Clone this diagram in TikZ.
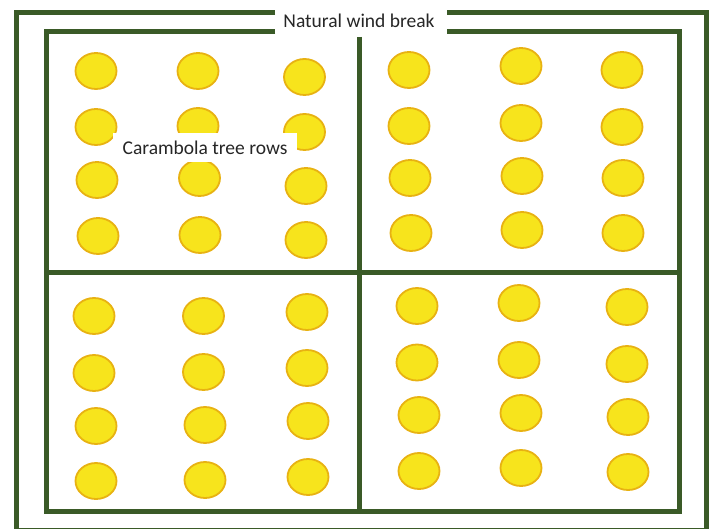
\documentclass[tikz,border=0pt]{standalone}
\usepackage{fontspec}
\setmainfont{Carlito}
\usetikzlibrary{shapes.geometric}
\definecolor{hedge}{HTML}{3A5A27}
\definecolor{fruit}{HTML}{F7E41C}
\definecolor{rim}{HTML}{E8B212}
\tikzset{
  hedgeline/.style={draw=hedge, line width=5pt},
  tree/.style={ellipse, draw=rim, fill=fruit, line width=1.8pt, minimum width=41pt, minimum height=36pt, inner sep=0pt},
  lbl/.style={fill=white, text=black!85, font=\fontsize{19.5}{21}\selectfont, inner sep=0pt}
}
\begin{document}
\begin{tikzpicture}[x=1pt,y=-1pt]
\useasboundingbox (0,0) rectangle (715,529);
\fill[white] (0,0) rectangle (715,529);
% outer wind break
\draw[hedgeline] (275,13) -- (16,13) -- (16,530) -- (706,530) -- (706,13) -- (447,13);
% inner frame
\draw[hedgeline] (275,31.5) -- (46,31.5) -- (46,511) -- (679.5,511) -- (679.5,31.5) -- (447,31.5);
% dividers
\draw[hedgeline] (359.5,37) -- (359.5,511);
\draw[hedgeline] (46,272.5) -- (679.5,272.5);
% top-left block
\node[tree] (a11) at (96,71) {};
\node[tree] (a12) at (198,71) {};
\node[tree] (a13) at (304.5,77) {};
\node[tree] (a21) at (96,127) {};
\node[tree] (a22) at (198,126) {};
\node[tree] (a23) at (304.5,132) {};
\node[tree] (a31) at (97,180) {};
\node[tree] (a32) at (199.5,178) {};
\node[tree] (a33) at (306,186) {};
\node[tree] (a41) at (98,236) {};
\node[tree] (a42) at (200,235) {};
\node[tree] (a43) at (306,240) {};
% top-right block
\node[tree] (b11) at (409,70) {};
\node[tree] (b12) at (521,66) {};
\node[tree] (b13) at (622,70) {};
\node[tree] (b21) at (409,126) {};
\node[tree] (b22) at (521,123) {};
\node[tree] (b23) at (622,127) {};
\node[tree] (b31) at (410,178) {};
\node[tree] (b32) at (522,176) {};
\node[tree] (b33) at (623,178) {};
\node[tree] (b41) at (411,233) {};
\node[tree] (b42) at (522,230) {};
\node[tree] (b43) at (623,233) {};
% bottom-left block
\node[tree] (c11) at (94,316) {};
\node[tree] (c12) at (203.5,316) {};
\node[tree] (c13) at (307,312) {};
\node[tree] (c21) at (94,373) {};
\node[tree] (c22) at (203.5,372) {};
\node[tree] (c23) at (307,368) {};
\node[tree] (c31) at (96,426) {};
\node[tree] (c32) at (205,425) {};
\node[tree] (c33) at (308,421) {};
\node[tree] (c41) at (96,481) {};
\node[tree] (c42) at (205,480) {};
\node[tree] (c43) at (308,477) {};
% bottom-right block
\node[tree] (d11) at (417,306) {};
\node[tree] (d12) at (519,303) {};
\node[tree] (d13) at (627,307) {};
\node[tree] (d21) at (417,362.5) {};
\node[tree] (d22) at (519,360) {};
\node[tree] (d23) at (627,364) {};
\node[tree] (d31) at (419,415) {};
\node[tree] (d32) at (521,413) {};
\node[tree] (d33) at (628,417) {};
\node[tree] (d41) at (419,471) {};
\node[tree] (d42) at (521,468) {};
\node[tree] (d43) at (628,472) {};
% labels
\node[lbl, minimum width=184pt, minimum height=29pt] (rows) at (205,147.5) {Carambola tree rows};
\node[lbl] (wind) at (359,21) {Natural wind break};
\end{tikzpicture}
\end{document}
